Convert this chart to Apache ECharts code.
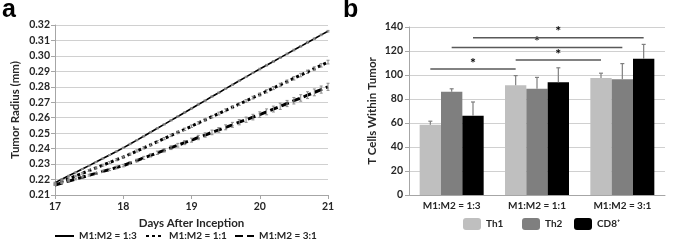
<!DOCTYPE html>
<html>
<head>
<meta charset="utf-8">
<script src="https://cdn.jsdelivr.net/npm/echarts@6/dist/echarts.min.js"></script>
<style>
  html, body { margin: 0; padding: 0; background: #fff; }
  #main { width: 676px; height: 242px; }
</style>
</head>
<body>
<div id="main"></div>
<script>
// panel a: tumor radius over time
var days = [17.0, 17.1, 17.2, 17.3, 17.4, 17.5, 17.6, 17.7, 17.8, 17.9,
            18.0, 18.1, 18.2, 18.3, 18.4, 18.5, 18.6, 18.7, 18.8, 18.9,
            19.0, 19.1, 19.2, 19.3, 19.4, 19.5, 19.6, 19.7, 19.8, 19.9,
            20.0, 20.1, 20.2, 20.3, 20.4, 20.5, 20.6, 20.7, 20.8, 20.9, 21.0];
var radius13 = [0.2180, 0.2202, 0.2224, 0.2246, 0.2268, 0.2290, 0.2313, 0.2336, 0.2359, 0.2382,
                0.2405, 0.2430, 0.2455, 0.2480, 0.2506, 0.2532, 0.2557, 0.2583, 0.2608, 0.2634,
                0.2660, 0.2686, 0.2711, 0.2737, 0.2762, 0.2788, 0.2813, 0.2839, 0.2864, 0.2890,
                0.2915, 0.2940, 0.2964, 0.2989, 0.3013, 0.3038, 0.3062, 0.3087, 0.3111, 0.3136, 0.3160];
var radius11 = [0.2170, 0.2188, 0.2205, 0.2223, 0.2240, 0.2258, 0.2275, 0.2293, 0.2310, 0.2328,
                0.2345, 0.2365, 0.2385, 0.2405, 0.2425, 0.2445, 0.2465, 0.2485, 0.2505, 0.2525,
                0.2545, 0.2566, 0.2586, 0.2607, 0.2627, 0.2648, 0.2668, 0.2689, 0.2709, 0.2730,
                0.2750, 0.2771, 0.2792, 0.2813, 0.2834, 0.2855, 0.2876, 0.2897, 0.2918, 0.2939, 0.2960];
var radius31 = [0.2165, 0.2178, 0.2190, 0.2203, 0.2215, 0.2228, 0.2240, 0.2253, 0.2265, 0.2278,
                0.2290, 0.2307, 0.2323, 0.2340, 0.2356, 0.2373, 0.2389, 0.2406, 0.2422, 0.2439,
                0.2455, 0.2472, 0.2488, 0.2505, 0.2521, 0.2538, 0.2554, 0.2571, 0.2587, 0.2604,
                0.2620, 0.2638, 0.2656, 0.2674, 0.2692, 0.2710, 0.2728, 0.2746, 0.2764, 0.2782, 0.2800];
var err13 = [0.0003, 0.0003, 0.0003, 0.0003, 0.0003, 0.0003, 0.0003, 0.0003, 0.0003, 0.0003,
             0.0004, 0.0004, 0.0004, 0.0004, 0.0004, 0.0004, 0.0004, 0.0004, 0.0004, 0.0004,
             0.0004, 0.0004, 0.0004, 0.0004, 0.0004, 0.0004, 0.0004, 0.0004, 0.0004, 0.0004,
             0.0005, 0.0005, 0.0005, 0.0005, 0.0005, 0.0005, 0.0005, 0.0005, 0.0005, 0.0005, 0.0005];
var err11 = [0.0005, 0.0005, 0.0005, 0.0005, 0.0005, 0.0006, 0.0006, 0.0006, 0.0006, 0.0006,
             0.0006, 0.0006, 0.0007, 0.0007, 0.0007, 0.0007, 0.0007, 0.0007, 0.0008, 0.0008,
             0.0008, 0.0008, 0.0008, 0.0008, 0.0009, 0.0009, 0.0009, 0.0009, 0.0009, 0.0009,
             0.0010, 0.0010, 0.0010, 0.0010, 0.0010, 0.0011, 0.0011, 0.0011, 0.0011, 0.0011, 0.0012];
var err31 = [0.0003, 0.0004, 0.0004, 0.0005, 0.0005, 0.0006, 0.0006, 0.0007, 0.0007, 0.0008,
             0.0008, 0.0009, 0.0009, 0.0010, 0.0010, 0.0011, 0.0011, 0.0012, 0.0012, 0.0013,
             0.0013, 0.0014, 0.0014, 0.0015, 0.0015, 0.0016, 0.0016, 0.0017, 0.0017, 0.0018,
             0.0018, 0.0019, 0.0019, 0.0020, 0.0020, 0.0021, 0.0021, 0.0022, 0.0022, 0.0023, 0.0023];
var ratioNames = ['M1:M2 = 1:3', 'M1:M2 = 1:1', 'M1:M2 = 3:1'];

// panel b: T cells within tumor
var groups = ['M1:M2 = 1:3', 'M1:M2 = 1:1', 'M1:M2 = 3:1'];
var cellNames = ['Th1', 'Th2', 'CD8\u207A'];
var th1 = [58.5, 91.5, 97.5];
var th2 = [86, 88.5, 96.5];
var cd8 = [66, 94, 113.5];
var th1Err = [3, 8, 4];
var th2Err = [2.5, 9.5, 13];
var cd8Err = [11.5, 12, 12];
// significance bars: from group, to group, which bar, height
var sigFrom = [0, 1, 0, 0];
var sigTo = [1, 2, 2, 2];
var sigBar = [0, 0, 1, 2];
var sigLevel = [105, 112.5, 123, 131];

var FONT = 'Lato';
var TXT = '#262626';
var legendText = { fontFamily: FONT, fontWeight: 'bold', fontSize: 10, color: TXT };

function pairs(xs, ys, es) {
  return xs.map(function (x, i) { return [x, ys[i], es[i]]; });
}

function errorBarsLine(params, api) {
  var x = api.value(0), y = api.value(1), e = api.value(2);
  var top = api.coord([x, y + e]);
  var bot = api.coord([x, y - e]);
  var s = { stroke: '#8c8c8c', lineWidth: 1 };
  return {
    type: 'group',
    children: [
      { type: 'line', shape: { x1: top[0], y1: top[1], x2: bot[0], y2: bot[1] }, style: s },
      { type: 'line', shape: { x1: top[0] - 1.5, y1: top[1], x2: top[0] + 1.5, y2: top[1] }, style: s },
      { type: 'line', shape: { x1: bot[0] - 1.5, y1: bot[1], x2: bot[0] + 1.5, y2: bot[1] }, style: s }
    ]
  };
}

function errorBarsBar(slot) {
  return function (params, api) {
    var i = api.value(0), v = api.value(1), e = api.value(2);
    var band = api.size([1, 0])[0];
    var off = (slot - 1) * band * 0.25;
    var base = api.coord([i, v]);
    var top = api.coord([i, v + e]);
    var x = base[0] + off;
    var s = { stroke: '#7f7f7f', lineWidth: 1.2 };
    return {
      type: 'group',
      children: [
        { type: 'line', shape: { x1: x, y1: base[1], x2: x, y2: top[1] }, style: s },
        { type: 'line', shape: { x1: x - 2, y1: top[1], x2: x + 2, y2: top[1] }, style: s }
      ]
    };
  };
}

function sigRender(params, api) {
  var a = api.value(0), b = api.value(1), slot = api.value(2), lvl = api.value(3);
  var band = api.size([1, 0])[0];
  var off = (slot - 1) * band * 0.25;
  var p1 = api.coord([a, lvl]);
  var p2 = api.coord([b, lvl]);
  var x1 = p1[0] + off, x2 = p2[0] + off;
  return {
    type: 'group',
    children: [
      { type: 'line', shape: { x1: x1, y1: p1[1], x2: x2, y2: p1[1] },
        style: { stroke: '#595959', lineWidth: 1.5 } },
      { type: 'text', style: { text: '*', x: (x1 + x2) / 2, y: p1[1] + 1,
        align: 'center', verticalAlign: 'bottom', fill: '#000',
        font: 'bold 14px ' + FONT } }
    ]
  };
}

function lineLegend(name, left, w) {
  return {
    data: [name], left: left, top: 231, padding: 0,
    itemWidth: w, itemHeight: 10,
    itemStyle: { color: 'rgba(0,0,0,0)', borderWidth: 0 },
    textStyle: legendText
  };
}

function barLegend(name, left) {
  return {
    data: [name], left: left, top: 218, padding: 0,
    itemWidth: 18, itemHeight: 12,
    textStyle: legendText
  };
}

var chart = echarts.init(document.getElementById('main'), null, { renderer: 'canvas' });

var option = {
  animation: false,
  textStyle: { fontFamily: FONT, color: TXT },
  graphic: [
    { type: 'text', left: 2, top: -2, style: { text: 'a', font: 'bold 25px Liberation Sans', fill: '#000' } },
    { type: 'text', left: 343, top: -2, style: { text: 'b', font: 'bold 25px Liberation Sans', fill: '#000' } }
  ],
  legend: [
    lineLegend(ratioNames[0], 54, 19),
    lineLegend(ratioNames[1], 145, 18),
    lineLegend(ratioNames[2], 234, 19),
    barLegend(cellNames[0], 463),
    barLegend(cellNames[1], 522),
    barLegend(cellNames[2], 574)
  ],
  grid: [
    { left: 55, right: 348, top: 25, bottom: 47 },
    { left: 409, right: 11, top: 27, bottom: 47 }
  ],
  xAxis: [
    {
      gridIndex: 0, type: 'value', min: 17, max: 21, interval: 1,
      name: 'Days After Inception', nameLocation: 'middle', nameGap: 19,
      nameTextStyle: { fontWeight: 'bold', fontSize: 11.5, color: TXT },
      axisLine: { lineStyle: { color: '#a6a6a6' } },
      axisTick: { show: true, length: 4, lineStyle: { color: '#a6a6a6' } },
      axisLabel: { fontWeight: 'bold', fontSize: 10.5, color: TXT, margin: 6 },
      splitLine: { show: false }
    },
    {
      gridIndex: 1, type: 'category', data: groups,
      axisLine: { lineStyle: { color: '#a6a6a6' } },
      axisTick: { show: false },
      axisLabel: { fontWeight: 'bold', fontSize: 10, color: TXT, margin: 6, interval: 0 }
    }
  ],
  yAxis: [
    {
      gridIndex: 0, type: 'value', min: 0.21, max: 0.32, interval: 0.01,
      name: 'Tumor Radius (mm)', nameLocation: 'middle', nameGap: 34,
      nameTextStyle: { fontWeight: 'bold', fontSize: 11.5, color: TXT },
      axisLine: { show: true, lineStyle: { color: '#a6a6a6' } },
      axisTick: { show: true, length: 4, lineStyle: { color: '#a6a6a6' } },
      axisLabel: { fontWeight: 'bold', fontSize: 10.5, color: TXT, margin: 5,
        formatter: function (v) { return v.toFixed(2); } },
      splitLine: { lineStyle: { color: '#d0d0d0' } }
    },
    {
      gridIndex: 1, type: 'value', min: 0, max: 140, interval: 20,
      name: 'T Cells Within Tumor', nameLocation: 'middle', nameGap: 31,
      nameTextStyle: { fontWeight: 'bold', fontSize: 11.5, color: TXT },
      axisLine: { show: true, lineStyle: { color: '#a6a6a6' } },
      axisTick: { show: true, length: 4, lineStyle: { color: '#a6a6a6' } },
      axisLabel: { fontWeight: 'bold', fontSize: 10.5, color: TXT, margin: 6 },
      splitLine: { lineStyle: { color: '#d0d0d0' } }
    }
  ],
  series: [
    {
      name: ratioNames[0], type: 'line', xAxisIndex: 0, yAxisIndex: 0,
      data: days.map(function (d, i) { return [d, radius13[i]]; }),
      showSymbol: false, symbol: 'none',
      lineStyle: { color: '#000', width: 1.6, type: 'solid' },
      itemStyle: { color: '#000' }, z: 3
    },
    {
      name: ratioNames[1], type: 'line', xAxisIndex: 0, yAxisIndex: 0,
      data: days.map(function (d, i) { return [d, radius11[i]]; }),
      showSymbol: false, symbol: 'none',
      lineStyle: { color: '#000', width: 3, type: [3, 3] },
      itemStyle: { color: '#000' }, z: 3
    },
    {
      name: ratioNames[2], type: 'line', xAxisIndex: 0, yAxisIndex: 0,
      data: days.map(function (d, i) { return [d, radius31[i]]; }),
      showSymbol: false, symbol: 'none',
      lineStyle: { color: '#000', width: 3, type: [8, 4] },
      itemStyle: { color: '#000' }, z: 3
    },
    { type: 'custom', xAxisIndex: 0, yAxisIndex: 0, renderItem: errorBarsLine,
      data: pairs(days, radius13, err13), z: 4, silent: true },
    { type: 'custom', xAxisIndex: 0, yAxisIndex: 0, renderItem: errorBarsLine,
      data: pairs(days, radius11, err11), z: 4, silent: true },
    { type: 'custom', xAxisIndex: 0, yAxisIndex: 0, renderItem: errorBarsLine,
      data: pairs(days, radius31, err31), z: 4, silent: true },

    { name: cellNames[0], type: 'bar', xAxisIndex: 1, yAxisIndex: 1, data: th1,
      itemStyle: { color: '#bfbfbf' }, barGap: 0, barCategoryGap: '25%' },
    { name: cellNames[1], type: 'bar', xAxisIndex: 1, yAxisIndex: 1, data: th2,
      itemStyle: { color: '#7f7f7f' }, barGap: 0, barCategoryGap: '25%' },
    { name: cellNames[2], type: 'bar', xAxisIndex: 1, yAxisIndex: 1, data: cd8,
      itemStyle: { color: '#000000' }, barGap: 0, barCategoryGap: '25%' },
    { type: 'custom', xAxisIndex: 1, yAxisIndex: 1, renderItem: errorBarsBar(0),
      data: pairs([0, 1, 2], th1, th1Err), z: 4, silent: true },
    { type: 'custom', xAxisIndex: 1, yAxisIndex: 1, renderItem: errorBarsBar(1),
      data: pairs([0, 1, 2], th2, th2Err), z: 4, silent: true },
    { type: 'custom', xAxisIndex: 1, yAxisIndex: 1, renderItem: errorBarsBar(2),
      data: pairs([0, 1, 2], cd8, cd8Err), z: 4, silent: true },
    { type: 'custom', xAxisIndex: 1, yAxisIndex: 1, renderItem: sigRender,
      encode: { x: [0, 1], y: 3 },
      data: sigFrom.map(function (f, i) { return [f, sigTo[i], sigBar[i], sigLevel[i]]; }),
      z: 5, silent: true }
  ]
};

if (option && typeof option === 'object') {
  chart.setOption(option);
}
</script>
</body>
</html>
